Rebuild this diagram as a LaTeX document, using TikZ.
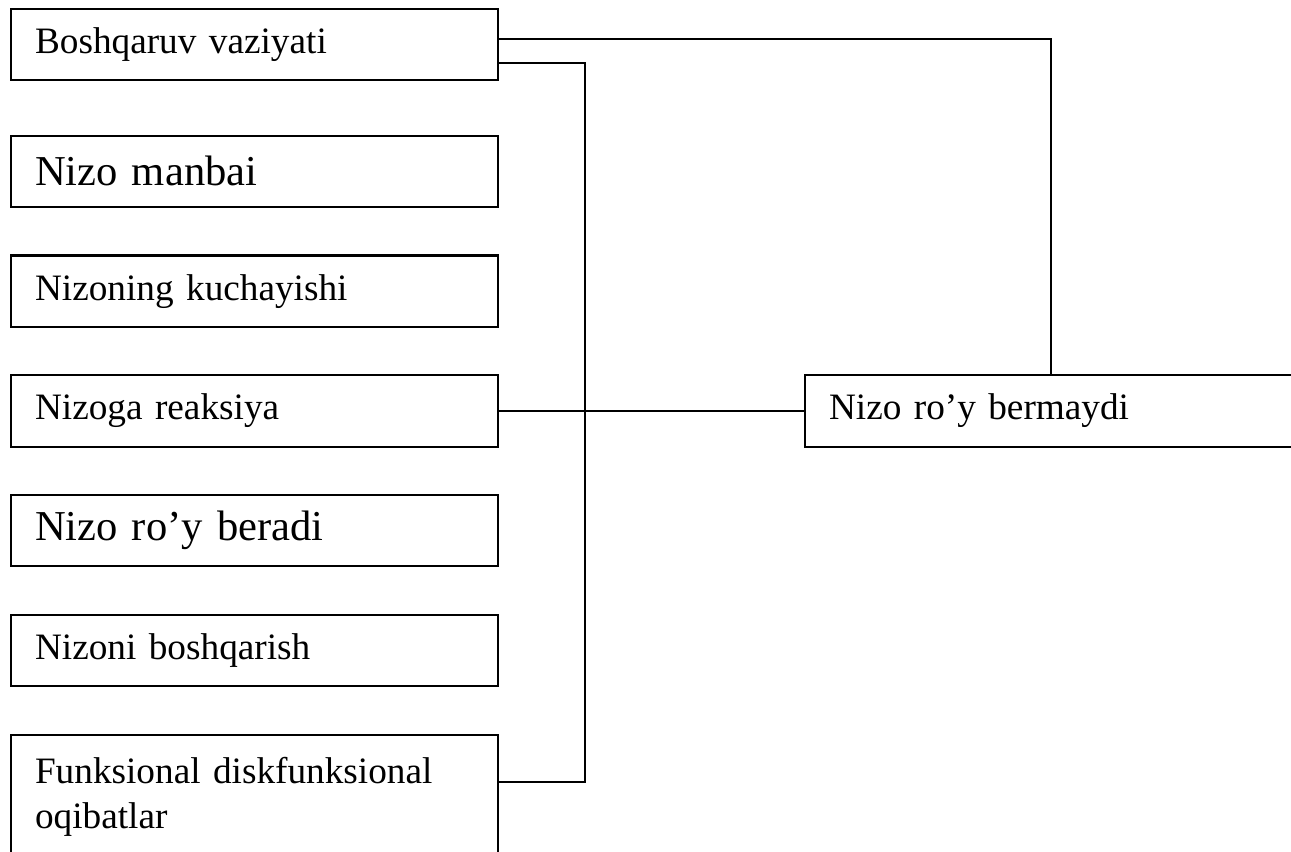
\documentclass[tikz,border=0pt]{standalone}
\usepackage{fontspec}
\setmainfont{Liberation Serif}
\usetikzlibrary{positioning}
\begin{document}
\begin{tikzpicture}[x=0.3757pt,y=-0.3757pt,
  node distance=17.4pt,%
  bx/.style={draw,line width=0.8pt,minimum width=183pt,minimum height=26.8pt,%
    text width=165pt,inner xsep=9pt,align=left,font=\fontsize{14}{16.8}\selectfont},%
  big/.style={font=\fontsize{16}{19}\selectfont},%
  e/.style={line width=0.8pt},%
  ]
  \useasboundingbox (0,0) rectangle (1291,852);
  \node (bv) [bx,anchor=north west] at (10,8) {Boshqaruv vaziyati};
  \node (nm) [bx,big,below=20pt of bv] {Nizo manbai};
  \node (nk) [bx,below=of nm] {Nizoning kuchayishi};
  \node (nr) [bx,below=of nk] {Nizoga reaksiya};
  \node (rb) [bx,big,below=of nr] {Nizo ro’y beradi};
  \node (nb) [bx,below=of rb] {Nizoni boshqarish};
  \node (fo) [bx,below=of nb,inner ysep=8.5pt] {Funksional diskfunksional\\oqibatlar\\\mbox{}};
  \node (rm) [bx,right=114.5pt of nr,text width=167pt,minimum width=185pt,inner xsep=7.5pt] {Nizo ro’y bermaydi};
  \coordinate (tr) at (585,782);
  \draw [e] ([yshift=2.25pt]bv.east) -| (rm.north);
  \draw [e] ([yshift=-6.8pt]bv.east) -| (tr) -- (tr -| fo.east);
  \draw [e] (nr.east) -- (rm.west);
\end{tikzpicture}
\end{document}
